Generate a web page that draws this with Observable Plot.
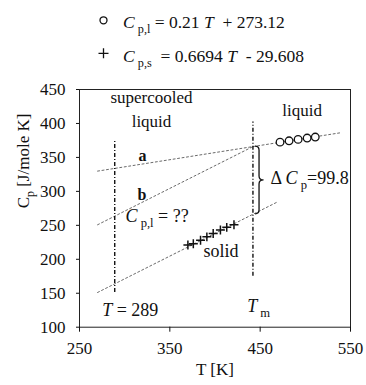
<!DOCTYPE html>
<html>
<head>
<meta charset="utf-8">
<script src="https://cdn.jsdelivr.net/npm/d3@7"></script>
<script src="https://cdn.jsdelivr.net/npm/@observablehq/plot@0.6"></script>
<style>
  body { margin: 0; background: #fff; }
  #chart { width: 366px; }
  #chart svg { display: block; }
</style>
</head>
<body>
<div id="chart"></div>
<script>
// Heat capacity of liquid (above Tm) and solid (below Tm) with linear fits.
const liquidT  = [472, 482, 492, 502, 511];
const liquidCp = [372.5, 374.5, 376.5, 378.5, 380];
const solidT   = [370, 376, 384, 391, 398, 406, 413, 421];
const solidCp  = [221, 223, 228, 233, 238, 243, 247, 251];

// Fit coefficients: Cp = slope * T + intercept
const liquidFit = [0.21, 273.12];
const solidFit  = [0.6694, -29.608];

const Tm = 442;          // melting temperature
const Tsuper = 289;      // supercooled temperature
const deltaCp = 99.8;    // Cp,l - Cp,s at Tm

// Temperature spans of the drawn fit lines
const liquidSpan = [270, 540];
const solidSpan  = [270, 470];
const shiftSpan  = [270, Tm];

// Vertical marker lines (T, Cp from, Cp to)
const markers = [
  {T: Tsuper, from: 151, to: 375},
  {T: Tm, from: 175, to: 402}
];

const xTicks = [250, 350, 450, 550];
const yTicks = [100, 150, 200, 250, 300, 350, 400, 450];

const cpl = T => liquidFit[0] * T + liquidFit[1];
const cps = T => solidFit[0] * T + solidFit[1];
// line "b": solid slope, passing through the liquid value at Tm
const cpb = T => cpl(Tm) + solidFit[0] * (T - Tm);

const liquidLine = liquidSpan.map(T => ({T, Cp: cpl(T)}));
const solidLine  = solidSpan.map(T => ({T, Cp: cps(T)}));
const shiftLine  = shiftSpan.map(T => ({T, Cp: cpb(T)}));

const liquidPts = liquidT.map((T, i) => ({T, Cp: liquidCp[i]}));
const solidPts  = solidT.map((T, i) => ({T, Cp: solidCp[i]}));

// Annotations, anchored in data units (baseline)
const centeredNotes = [
  {T: 329.7, Cp: 429.4, label: "supercooled"},
  {T: 329.7, Cp: 394.5, label: "liquid"},
  {T: 496.5, Cp: 410.3, label: "liquid"}
];
const leftNotes = [
  {T: 300.9, Cp: 255.6, label: "*C*_{ p,l} = ??"},
  {T: 387.3, Cp: 204.1, label: "solid"},
  {T: 275.1, Cp: 117.2, label: `*T* = ${Tsuper}`},
  {T: 435.6, Cp: 122.1, label: "*T*_{ m}"}
];
const deltaNote = [{T: 461.4, Cp: 311.2, label: `Δ *C*_{ p}=${deltaCp}`}];
const lineTags = [
  {T: 315.3, Cp: 344.0, label: "a"},
  {T: 314.2, Cp: 286.6, label: "b"}
];

const serif = "'Liberation Serif', 'Times New Roman', serif";
const fitStyle = {x: "T", y: "Cp", stroke: "#444", strokeWidth: 0.8, strokeDasharray: "2,2.5"};

// "*x*" = italic, "_{x}" = subscript
function richText(el) {
  const src = el.textContent;
  if (!/[*_]/.test(src)) return;
  const parts = src.split(/(\*[^*]+\*|_\{[^}]*\})/).filter(s => s !== "");
  el.textContent = "";
  el.style.whiteSpace = "pre";
  let lowered = false;
  for (const p of parts) {
    const t = document.createElementNS("http://www.w3.org/2000/svg", "tspan");
    if (p.startsWith("_{")) {
      t.textContent = p.slice(2, -1);
      t.setAttribute("font-size", "70%");
      t.setAttribute("dy", "0.4em");
      lowered = true;
    } else {
      if (p.startsWith("*")) {
        t.textContent = p.slice(1, -1);
        t.setAttribute("font-style", "italic");
      } else {
        t.textContent = p;
      }
      if (lowered) { t.setAttribute("dy", "-0.28em"); lowered = false; }
    }
    el.appendChild(t);
  }
}

// Curly brace spanning ΔCp at Tm
function brace(index, scales) {
  const x0 = scales.x(Tm) + 2.6;
  const xm = x0 + 4;
  const tip = x0 + 8.5;
  const yTop = scales.y(cpl(Tm));
  const yBot = scales.y(cps(Tm));
  const yMid = (yTop + yBot) / 2;
  const r = 4;
  const d = `M${x0},${yTop} Q${xm},${yTop} ${xm},${yTop + r} L${xm},${yMid - r} ` +
            `Q${xm},${yMid} ${tip},${yMid} Q${xm},${yMid} ${xm},${yMid + r} ` +
            `L${xm},${yBot - r} Q${xm},${yBot} ${x0},${yBot}`;
  return d3.create("svg:path")
    .attr("d", d).attr("fill", "none").attr("stroke", "#111").attr("stroke-width", 1.3)
    .node();
}

// Legend with the two fit equations
const legend = d3.create("svg").attr("width", 366).attr("height", 72)
  .attr("font-family", serif).attr("font-size", 17.5).attr("fill", "#111");
legend.append("circle").attr("cx", 103.5).attr("cy", 20.3).attr("r", 3.5)
  .attr("fill", "none").attr("stroke", "#111").attr("stroke-width", 1.3);
legend.append("path").attr("d", "M98.5,53.3H108.5M103.5,48.3V58.3")
  .attr("stroke", "#111").attr("stroke-width", 1.3);
legend.append("text").attr("x", 123).attr("y", 28)
  .text(`*C*_{ p,l} = ${liquidFit[0]} *T*  + ${liquidFit[1]}`);
legend.append("text").attr("x", 123).attr("y", 61.7)
  .text(`*C*_{ p,s}  = ${solidFit[0]} *T*  - ${Math.abs(solidFit[1])}`);
legend.selectAll("text").each(function () { richText(this); });

const chart = Plot.plot({
  width: 366,
  height: 313,
  marginTop: 17,
  marginBottom: 58.3,
  marginLeft: 79,
  marginRight: 16,
  x: {domain: [250, 550]},
  y: {domain: [100, 450]},
  style: `font-family: ${serif}; font-size: 17px; color: #111; background: #fff; overflow: visible;`,
  marks: [
    Plot.frame({stroke: "#222"}),
    Plot.axisX({ticks: xTicks, tickSize: 5, tickPadding: 10, label: null, fontFamily: serif}),
    Plot.axisY({ticks: yTicks, tickSize: 3, tickPadding: 11, label: null, fontFamily: serif}),
    Plot.text(["T [K]"], {frameAnchor: "bottom", dy: 42.3, lineAnchor: "middle", fontFamily: serif}),
    Plot.text(["C_{p} [J/mole K]"], {frameAnchor: "left", rotate: -90, dx: -56, lineAnchor: "middle", fontFamily: serif}),
    Plot.line(liquidLine, fitStyle),
    Plot.line(shiftLine, fitStyle),
    Plot.line(solidLine, fitStyle),
    Plot.ruleX(markers, {x: "T", y1: "from", y2: "to", stroke: "#111", strokeWidth: 1.4, strokeDasharray: "4,2,1,2"}),
    brace,
    Plot.dot(liquidPts, {x: "T", y: "Cp", r: 3.8, stroke: "#111", fill: "#fff", strokeWidth: 1.3}),
    Plot.dot(solidPts, {x: "T", y: "Cp", symbol: "plus", r: 3, stroke: "#111", strokeWidth: 1.5}),
    Plot.text(centeredNotes, {x: "T", y: "Cp", text: "label", lineAnchor: "bottom", textAnchor: "middle", fontSize: 17, fontFamily: serif}),
    Plot.text(leftNotes, {x: "T", y: "Cp", text: "label", lineAnchor: "bottom", textAnchor: "start", fontSize: 18, fontFamily: serif}),
    Plot.text(deltaNote, {x: "T", y: "Cp", text: "label", lineAnchor: "bottom", textAnchor: "start", fontSize: 18, fontFamily: serif}),
    Plot.text(lineTags, {x: "T", y: "Cp", text: "label", lineAnchor: "bottom", textAnchor: "start", fontSize: 16, fontWeight: "bold", fontFamily: serif})
  ]
});
d3.select(chart).selectAll("text").each(function () { richText(this); });

const root = document.getElementById("chart");
root.appendChild(legend.node());
root.appendChild(chart);
</script>
</body>
</html>
